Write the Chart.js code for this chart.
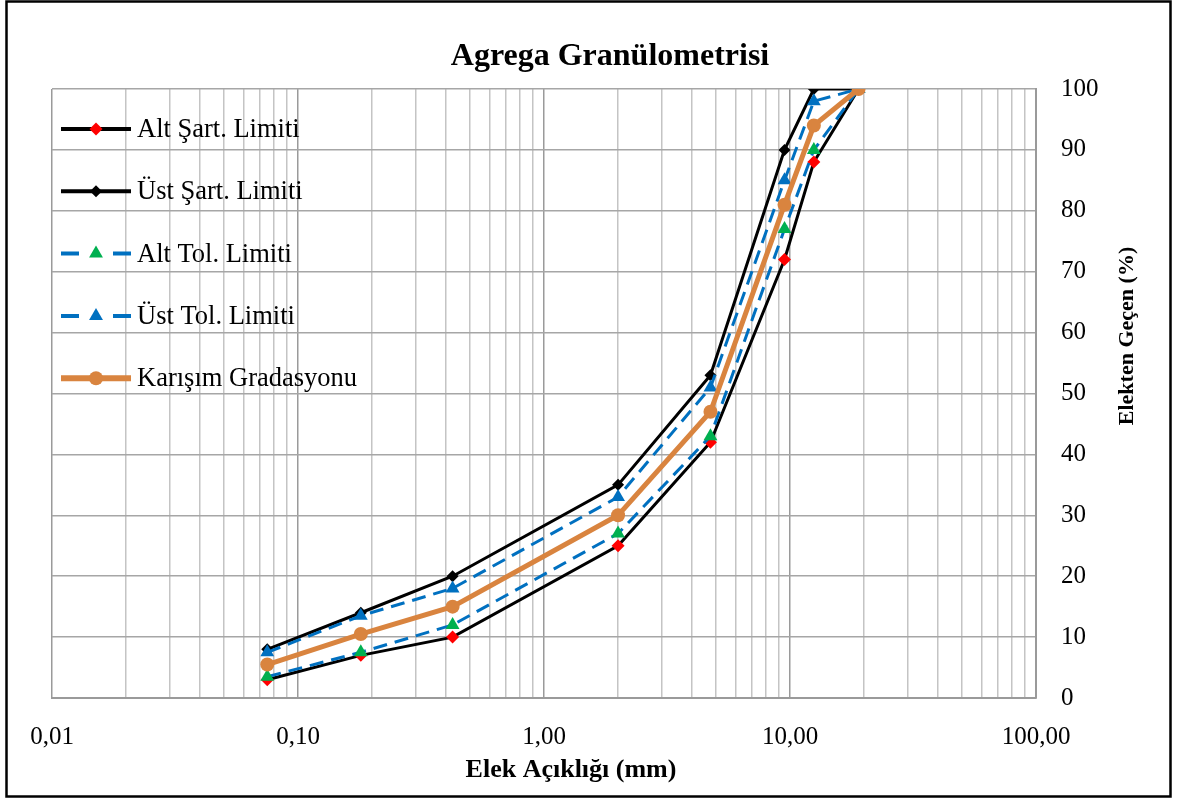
<!DOCTYPE html>
<html>
<head>
<meta charset="utf-8">
<script src="https://cdn.jsdelivr.net/npm/chart.js@4.4.1/dist/chart.umd.min.js"></script>
<style>
  html, body { margin: 0; padding: 0; background: #fff; }
  #wrap { width: 1179px; height: 800px; }
</style>
</head>
<body>
<div id="wrap"><canvas id="c" width="1179" height="800"></canvas></div>
<script>
// Sieve openings (mm) and percent passing for each curve
const sieveSizes = [0.075, 0.18, 0.425, 2.0, 4.75, 9.5, 12.5, 19.0];
const altSart  = [3, 7, 10, 25, 42, 72, 88, 100];
const ustSart  = [8, 14, 20, 35, 53, 90, 100, 100];
const altTol   = [3.5, 7.5, 12, 27, 43, 77, 90, 100];
const ustTol   = [7.5, 13.5, 18, 33, 51, 85, 98, 100];
const karisim  = [5.5, 10.5, 15, 30, 47, 81, 94, 100];

const seriesNames = ['Alt Şart. Limiti', 'Üst Şart. Limiti', 'Alt Tol. Limiti', 'Üst Tol. Limiti', 'Karışım Gradasyonu'];
const xDecades = [0.01, 0.1, 1, 10, 100];
const yMin = 0, yMax = 100, yStep = 10;

const chartTitle = 'Agrega Granülometrisi';
const xTitle = 'Elek Açıklığı (mm)';
const yTitle = 'Elekten Geçen (%)';

const FONT = '"Liberation Serif", "Times New Roman", serif';
const BLUE = '#0070C0';
const ORANGE = '#D9843F';

const pts = arr => sieveSizes.map((s, i) => ({ x: s, y: arr[i] }));

function isDecade(v) {
  const l = Math.log10(v);
  return Math.abs(l - Math.round(l)) < 1e-9;
}

const datasets = [
  { label: seriesNames[0], data: pts(altSart), borderColor: '#000', borderWidth: 3,
    pointStyle: 'rectRot', pointRadius: 6.5, pointBackgroundColor: '#FF0000', pointBorderColor: '#FF0000',
    pointBorderWidth: 0, order: 5 },
  { label: seriesNames[1], data: pts(ustSart), borderColor: '#000', borderWidth: 3,
    pointStyle: 'rectRot', pointRadius: 6, pointBackgroundColor: '#000', pointBorderColor: '#000',
    pointBorderWidth: 0, order: 4 },
  { label: seriesNames[2], data: pts(altTol), borderColor: BLUE, borderWidth: 3, borderDash: [14, 8],
    pointStyle: 'triangle', pointRadius: 8, pointBackgroundColor: '#00B050', pointBorderColor: '#00B050',
    pointBorderWidth: 0, order: 3 },
  { label: seriesNames[3], data: pts(ustTol), borderColor: BLUE, borderWidth: 3, borderDash: [14, 8],
    pointStyle: 'triangle', pointRadius: 8, pointBackgroundColor: BLUE, pointBorderColor: BLUE,
    pointBorderWidth: 0, order: 2 },
  { label: seriesNames[4], data: pts(karisim), borderColor: ORANGE, borderWidth: 5,
    pointStyle: 'circle', pointRadius: 7, pointBackgroundColor: ORANGE, pointBorderColor: ORANGE,
    pointBorderWidth: 0, order: 1 }
];

// Page frame, titles and the in-plot legend
const decor = {
  id: 'decor',
  beforeDraw(chart) {
    const ctx = chart.ctx;
    ctx.save();
    ctx.fillStyle = '#fff';
    ctx.fillRect(0, 0, chart.width, chart.height);
    ctx.strokeStyle = '#000';
    ctx.lineWidth = 2.5;
    ctx.strokeRect(6.5, 1.5, 1164, 795);
    ctx.restore();
  },
  afterDraw(chart) {
    const ctx = chart.ctx;
    const a = chart.chartArea;
    ctx.save();
    ctx.fillStyle = '#000';
    ctx.textAlign = 'center';
    ctx.textBaseline = 'middle';
    ctx.font = 'bold 32px ' + FONT;
    ctx.fillText(chartTitle, 610, 57);
    ctx.font = 'bold 26px ' + FONT;
    ctx.fillText(xTitle, 571, 770);
    ctx.font = 'bold 22px ' + FONT;
    ctx.save();
    ctx.translate(1127, 336);
    ctx.rotate(-Math.PI / 2);
    ctx.fillText(yTitle, 0, 0);
    ctx.restore();

    // legend
    ctx.textAlign = 'left';
    ctx.font = '26.5px ' + FONT;
    chart.data.datasets.forEach((ds, i) => {
      const y = a.top + 40 + i * 62.3;
      ctx.save();
      ctx.strokeStyle = ds.borderColor;
      ctx.lineWidth = ds.borderWidth + 1;
      ctx.lineCap = 'butt';
      ctx.beginPath();
      if (ds.borderDash) {
        ctx.moveTo(61, y); ctx.lineTo(79, y);
        ctx.moveTo(113, y); ctx.lineTo(131, y);
      } else {
        ctx.moveTo(61, y); ctx.lineTo(131, y);
      }
      ctx.stroke();
      ctx.fillStyle = ds.pointBackgroundColor;
      ctx.strokeStyle = ds.pointBorderColor;
      Chart.helpers.drawPoint(ctx, { pointStyle: ds.pointStyle, radius: ds.pointRadius, rotation: 0, borderWidth: 0 }, 96, y);
      ctx.restore();
      ctx.fillStyle = '#000';
      ctx.fillText(ds.label, 137, y + 1);
    });
    ctx.restore();
  }
};

new Chart(document.getElementById('c'), {
  type: 'line',
  data: { datasets },
  plugins: [decor],
  options: {
    responsive: false,
    animation: false,
    devicePixelRatio: 1,
    layout: { padding: { left: 52, top: 89, right: 0, bottom: 0 } },
    plugins: { legend: { display: false }, tooltip: { enabled: false }, title: { display: false } },
    elements: { line: { tension: 0, borderCapStyle: 'butt', borderJoinStyle: 'miter' } },
    scales: {
      x: {
        type: 'logarithmic',
        position: 'bottom',
        min: xDecades[0],
        max: xDecades[xDecades.length - 1],
        afterBuildTicks(scale) {
          const ticks = [];
          for (let d = 0; d < xDecades.length - 1; d++) {
            for (let m = 1; m <= 9; m++) ticks.push({ value: m * xDecades[d] });
          }
          ticks.push({ value: xDecades[xDecades.length - 1] });
          scale.ticks = ticks;
        },
        afterFit(scale) { scale.height = 102; },
        ticks: {
          autoSkip: false,
          maxRotation: 0,
          padding: 24,
          color: '#000',
          font: { family: FONT, size: 25 },
          callback(v) { return isDecade(v) ? Number(v).toFixed(2).replace('.', ',') : ''; }
        },
        grid: {
          drawTicks: false,
          lineWidth: 1.5,
          color(ctx) { return ctx.tick && isDecade(ctx.tick.value) ? '#9a9a9a' : '#c4c4c4'; }
        },
        border: { display: true, color: '#9a9a9a', width: 2 }
      },
      y: {
        type: 'linear',
        position: 'right',
        min: yMin,
        max: yMax,
        afterFit(scale) { scale.width = 143; },
        ticks: {
          stepSize: yStep,
          padding: 25,
          color: '#000',
          font: { family: FONT, size: 25 }
        },
        grid: { drawTicks: false, color: '#a6a6a6', lineWidth: 1.5 },
        border: { display: true, color: '#9a9a9a', width: 2 }
      }
    }
  }
});
</script>
</body>
</html>
